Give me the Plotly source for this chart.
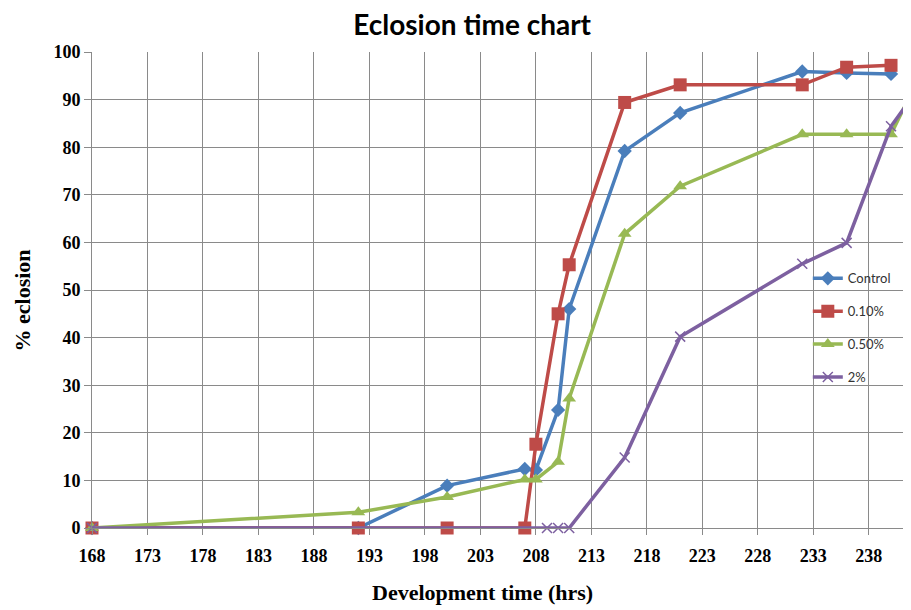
import plotly.graph_objects as go

# ---- data ----
control_x = [168, 192, 200, 207, 208, 210, 211, 216, 221, 232, 236, 240]
control_y = [0, 0, 8.9, 12.4, 12.2, 24.8, 46.0, 79.2, 87.2, 95.9, 95.6, 95.4]

p010_x = [168, 192, 200, 207, 208, 210, 211, 216, 221, 232, 236, 240]
p010_y = [0, 0, 0, 0, 17.6, 45.0, 55.3, 89.4, 93.1, 93.1, 96.8, 97.2]

p050_x = [168, 192, 200, 207, 208, 210, 211, 216, 221, 232, 236, 240, 243]
p050_y = [0, 3.3, 6.5, 10.2, 10.2, 13.9, 27.2, 61.8, 71.8, 82.7, 82.7, 82.7, 97.0]

p2_x = [168, 209, 210, 211, 216, 221, 232, 236, 240, 243]
p2_y = [0, 0, 0, 0, 14.8, 40.2, 55.5, 59.9, 84.4, 94.0]

x_ticks = list(range(168, 241, 5))
y_ticks = list(range(0, 101, 10))

series = [
    ("Control", control_x, control_y, "#4A7EBB", "diamond", 11, 0),
    ("0.10%", p010_x, p010_y, "#BE4B48", "square", 13, 0),
    ("0.50%", p050_x, p050_y, "#98B954", "triangle-up", 12, 0),
    ("2%", p2_x, p2_y, "#7D60A0", "x-thin-open", 10, 1.5),
]

fig = go.Figure()
for i, (name, xs, ys, col, sym, sz, lw) in enumerate(series):
    fig.add_trace(go.Scatter(
        x=xs, y=ys, name=name, mode="lines+markers",
        line=dict(color=col, width=3.5),
        marker=dict(symbol=sym, size=sz, color=col,
                    line=dict(color=col, width=lw)),
        cliponaxis=False, legendgroup="g%d" % i,
    ))

grid = "#8A8A8A"
tick_font = dict(family="Liberation Serif", size=18, color="black", weight="bold")
fig.update_layout(
    width=903, height=602,
    margin=dict(l=84, r=0, t=44, b=82),
    paper_bgcolor="white", plot_bgcolor="white",
    showlegend=True,
    title=dict(text="<b>Eclosion time chart</b>", x=0.514, xanchor="center",
               y=0.972, yanchor="middle",
               font=dict(family="Lato", size=28, color="black")),
    legend=dict(x=0.874, y=0.556, xanchor="left", yanchor="top",
                bgcolor="rgba(0,0,0,0)", tracegroupgap=13,
                font=dict(family="Lato", size=13, color="#333333")),
    xaxis=dict(range=[168, 241.8], tickvals=x_ticks, ticktext=[str(v) for v in x_ticks],
               showgrid=True, gridcolor=grid, gridwidth=1,
               showline=True, linecolor=grid, linewidth=1,
               ticks="outside", ticklen=6, tickcolor=grid, zeroline=False,
               ticklabelstandoff=5, tickfont=tick_font),
    yaxis=dict(range=[0, 100], tickvals=y_ticks,
               showgrid=True, gridcolor=grid, gridwidth=1,
               showline=True, linecolor=grid, linewidth=1,
               ticks="outside", ticklen=7, tickcolor=grid, zeroline=False,
               tickfont=tick_font),
    annotations=[
        dict(text="<b>Development time (hrs)</b>", xref="paper", yref="paper",
             x=0.477, y=-0.135, xanchor="center", yanchor="middle", showarrow=False,
             font=dict(family="Liberation Serif", size=22, color="black")),
        dict(text="<b>% eclosion</b>", xref="paper", yref="paper",
             x=-0.0855, y=0.478, xanchor="center", yanchor="middle", showarrow=False,
             textangle=-90,
             font=dict(family="Liberation Serif", size=22, color="black")),
    ],
)

fig.write_html("out.html")
